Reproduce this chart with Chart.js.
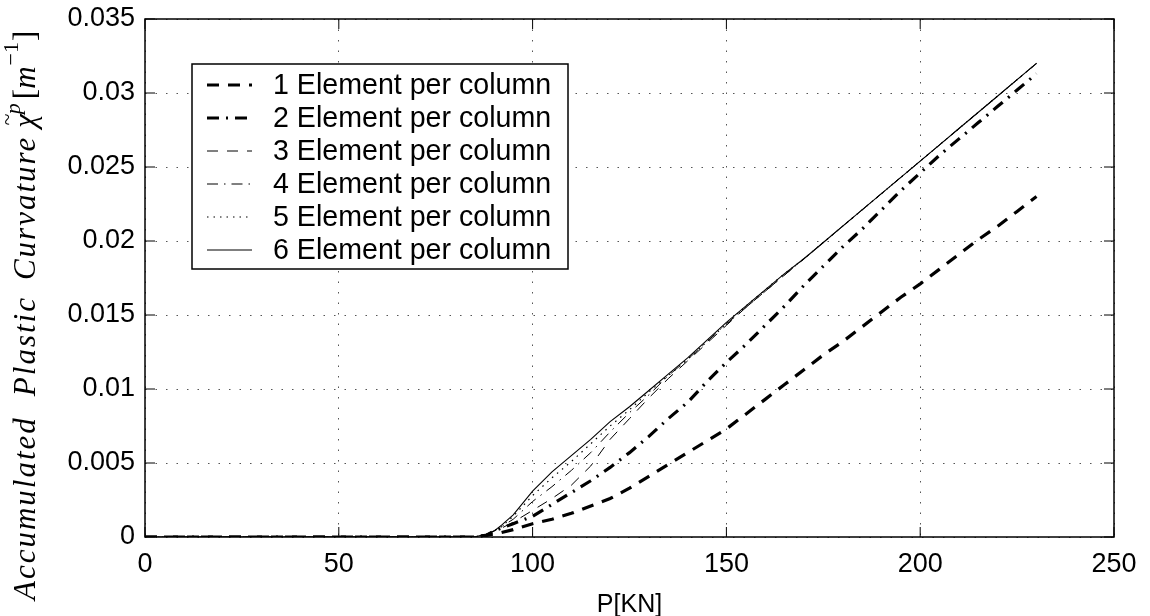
<!DOCTYPE html>
<html>
<head>
<meta charset="utf-8">
<script src="https://cdn.jsdelivr.net/npm/chart.js@4/dist/chart.umd.min.js"></script>
<style>
  html, body { margin: 0; padding: 0; background: #fff; }
  #wrap { width: 1150px; height: 616px; }
</style>
</head>
<body>
<div id="wrap"><canvas id="curvChart"></canvas></div>
<script>
// load P[KN]
const loadP = [0, 20, 40, 60, 80, 85, 88, 90, 92, 95, 100, 105, 110, 115, 120, 125, 130, 135, 140, 145, 150,
  155, 160, 165, 170, 175, 180, 185, 190, 195, 200, 205, 210, 215, 220, 225, 230];

// accumulated plastic curvature, one array per mesh
const elem1 = [0, 0, 0, 0, 0, 0, 0.0001, 0.0002, 0.0003, 0.0005, 0.0009, 0.0012, 0.0016, 0.0021, 0.0026, 0.0033, 0.0041, 0.0049, 0.0057, 0.0065, 0.0073,
  0.0083, 0.0093, 0.0103, 0.0113, 0.0123, 0.0132, 0.0142, 0.0152, 0.0162, 0.0171, 0.0181, 0.0191, 0.0201, 0.0210, 0.0220, 0.0230];
const elem2 = [0, 0, 0, 0, 0, 0, 0.0001, 0.0004, 0.0006, 0.0009, 0.0014, 0.0022, 0.0030, 0.0038, 0.0047, 0.0057, 0.0068, 0.0080, 0.0091, 0.0105, 0.0118,
  0.0130, 0.0143, 0.0156, 0.0170, 0.0183, 0.0196, 0.0208, 0.0221, 0.0234, 0.0246, 0.0258, 0.0269, 0.0280, 0.0291, 0.0302, 0.0313];
const elem3 = [0, 0, 0, 0, 0, 0, 0.0001, 0.0004, 0.0006, 0.0010, 0.0018, 0.0026, 0.0035, 0.0048, 0.0066, 0.0080, 0.0094, 0.0107, 0.0119, 0.0131, 0.0143,
  0.0155, 0.0166, 0.0177, 0.0188, 0.0199, 0.0210, 0.0221, 0.0232, 0.0243, 0.0254, 0.0265, 0.0276, 0.0287, 0.0298, 0.0309, 0.0320];
const elem4 = [0, 0, 0, 0, 0, 0, 0.0001, 0.0004, 0.0007, 0.0012, 0.0024, 0.0034, 0.0045, 0.0057, 0.0071, 0.0084, 0.0096, 0.0109, 0.0120, 0.0132, 0.0144,
  0.0155, 0.0166, 0.0177, 0.0188, 0.0199, 0.0210, 0.0221, 0.0232, 0.0243, 0.0254, 0.0265, 0.0276, 0.0287, 0.0298, 0.0309, 0.0320];
const elem5 = [0, 0, 0, 0, 0, 0, 0.0002, 0.0004, 0.0007, 0.0014, 0.0028, 0.0040, 0.0051, 0.0063, 0.0075, 0.0086, 0.0098, 0.0109, 0.0120, 0.0132, 0.0144,
  0.0156, 0.0167, 0.0178, 0.0188, 0.0199, 0.0210, 0.0221, 0.0232, 0.0243, 0.0254, 0.0265, 0.0276, 0.0287, 0.0298, 0.0309, 0.0320];
const elem6 = [0, 0, 0, 0, 0, 0, 0.0002, 0.0004, 0.0008, 0.0015, 0.0031, 0.0044, 0.0055, 0.0066, 0.0078, 0.0088, 0.0099, 0.0110, 0.0121, 0.0133, 0.0145,
  0.0156, 0.0167, 0.0178, 0.0188, 0.0199, 0.0210, 0.0221, 0.0232, 0.0243, 0.0254, 0.0265, 0.0276, 0.0287, 0.0298, 0.0309, 0.0320];

const seriesNames = ["1 Element per column", "2 Element per column", "3 Element per column",
  "4 Element per column", "5 Element per column", "6 Element per column"];
const xTickLabels = ["0", "50", "100", "150", "200", "250"];
const yTickLabels = ["0", "0.005", "0.01", "0.015", "0.02", "0.025", "0.03", "0.035"];

const allSeries = [elem1, elem2, elem3, elem4, elem5, elem6];
const lineStyles = [
  { width: 3.2, dash: [12, 9] },
  { width: 3.2, dash: [12, 7, 2, 7] },
  { width: 1, dash: [11, 9] },
  { width: 1, dash: [11, 6, 1.5, 6] },
  { width: 1.2, dash: [1.5, 5] },
  { width: 1.1, dash: [] }
];

const tickFont = { family: "'Liberation Sans', Arial, sans-serif", size: 27 };

// box round the plot + inward ticks, like matlab
const boxPlugin = {
  id: 'boxPlugin',
  afterDraw(chart) {
    const c = chart.ctx;
    const a = chart.chartArea;
    const xs = chart.scales.x, ys = chart.scales.y;
    c.save();
    c.strokeStyle = '#000';
    c.lineWidth = 1.5;
    c.setLineDash([]);
    c.strokeRect(a.left, a.top, a.right - a.left, a.bottom - a.top);
    c.lineWidth = 1;
    c.beginPath();
    xs.ticks.forEach(t => {
      const px = xs.getPixelForValue(t.value);
      c.moveTo(px, a.bottom); c.lineTo(px, a.bottom - 10);
      c.moveTo(px, a.top); c.lineTo(px, a.top + 10);
    });
    ys.ticks.forEach(t => {
      const py = ys.getPixelForValue(t.value);
      c.moveTo(a.left, py); c.lineTo(a.left + 10, py);
      c.moveTo(a.right, py); c.lineTo(a.right - 10, py);
    });
    c.stroke();
    c.restore();
  }
};

// legend box in the upper left
const legendPlugin = {
  id: 'legendPlugin',
  afterDraw(chart) {
    const c = chart.ctx;
    c.save();
    c.fillStyle = '#fff';
    c.fillRect(192, 64, 376, 205);
    c.strokeStyle = '#000';
    c.lineWidth = 1.5;
    c.setLineDash([]);
    c.strokeRect(192, 64, 376, 205);
    chart.data.datasets.forEach((ds, i) => {
      const y = 85 + i * 33;
      c.beginPath();
      c.lineWidth = ds.borderWidth;
      c.setLineDash(ds.borderDash);
      c.moveTo(207, y); c.lineTo(252, y);
      c.stroke();
      c.setLineDash([]);
      c.fillStyle = '#000';
      c.font = "28.6px 'Liberation Sans', Arial, sans-serif";
      c.textBaseline = 'middle';
      c.fillText(ds.label, 273, y + 1);
    });
    c.restore();
  }
};

// y axis title with the chi~p and m^-1 bits
const yTitlePlugin = {
  id: 'yTitlePlugin',
  afterDraw(chart) {
    const c = chart.ctx;
    c.save();
    c.translate(35, 600);
    c.rotate(-Math.PI / 2);
    c.fillStyle = '#000';
    c.textBaseline = 'alphabetic';
    const big = "italic 31px 'Liberation Serif', 'Times New Roman', serif";
    const small = "italic 22px 'Liberation Serif', 'Times New Roman', serif";
    c.letterSpacing = '2px';
    c.font = big;
    let x = 0;
    const words = ["Accumulated", "Plastic", "Curvature"];
    const gaps = [20, 16, 8];
    words.forEach((w, i) => {
      c.fillText(w, x, 0);
      x += c.measureText(w).width + gaps[i];
    });
    c.fillText("\u03C7", x, 0);
    const chiW = c.measureText("\u03C7").width;
    c.font = small;
    c.fillText("~", x + 2, -21);
    c.fillText("p", x + chiW - 2, -15);
    x += chiW + c.measureText("p").width;
    c.letterSpacing = '0px';
    c.font = "31px 'Liberation Serif', 'Times New Roman', serif";
    c.fillText("[", x, 0);
    x += c.measureText("[").width;
    c.font = big;
    c.fillText("m", x, 0);
    x += c.measureText("m").width;
    c.font = "22px 'Liberation Serif', 'Times New Roman', serif";
    c.fillText("\u22121", x + 1, -17);
    x += c.measureText("\u22121").width + 2;
    c.font = "31px 'Liberation Serif', 'Times New Roman', serif";
    c.fillText("]", x, 0);
    c.restore();
  }
};

const ctx = document.getElementById("curvChart").getContext("2d");
const curvChart = new Chart(ctx, {
  type: 'line',
  data: {
    datasets: allSeries.map((vals, i) => ({
      label: seriesNames[i],
      data: vals.map((v, j) => ({ x: loadP[j], y: v })),
      borderColor: '#000',
      borderWidth: lineStyles[i].width,
      borderDash: lineStyles[i].dash,
      pointRadius: 0,
      fill: false,
      tension: 0
    }))
  },
  options: {
    responsive: true,
    maintainAspectRatio: false,
    animation: false,
    layout: { padding: { left: 0, right: 36, top: 19, bottom: 0 } },
    plugins: { legend: { display: false }, tooltip: { enabled: false } },
    scales: {
      x: {
        type: 'linear',
        min: 0, max: 250,
        ticks: {
          stepSize: 50,
          color: '#000',
          font: tickFont,
          padding: 11,
          maxRotation: 0,
          callback: (v) => xTickLabels[Math.round(v / 50)]
        },
        grid: { color: '#555', lineWidth: 1, drawTicks: false },
        border: { display: false, dash: [1.5, 9] },
        title: {
          display: true,
          text: 'P[KN]',
          color: '#000',
          font: { family: "'Liberation Sans', Arial, sans-serif", size: 25 },
          padding: { top: 0, bottom: -4 }
        },
        afterFit: (s) => { s.height = 79; s.paddingLeft = 0; s.paddingRight = 0; }
      },
      y: {
        type: 'linear',
        min: 0, max: 0.035,
        ticks: {
          stepSize: 0.005,
          color: '#000',
          font: tickFont,
          padding: 10,
          callback: (v) => yTickLabels[Math.round(v / 0.005)]
        },
        grid: { color: '#555', lineWidth: 1, drawTicks: false },
        border: { display: false, dash: [1.5, 9] },
        afterFit: (s) => { s.width = 145; s.paddingTop = 0; s.paddingBottom = 0; }
      }
    }
  },
  plugins: [boxPlugin, legendPlugin, yTitlePlugin]
});
</script>
</body>
</html>
